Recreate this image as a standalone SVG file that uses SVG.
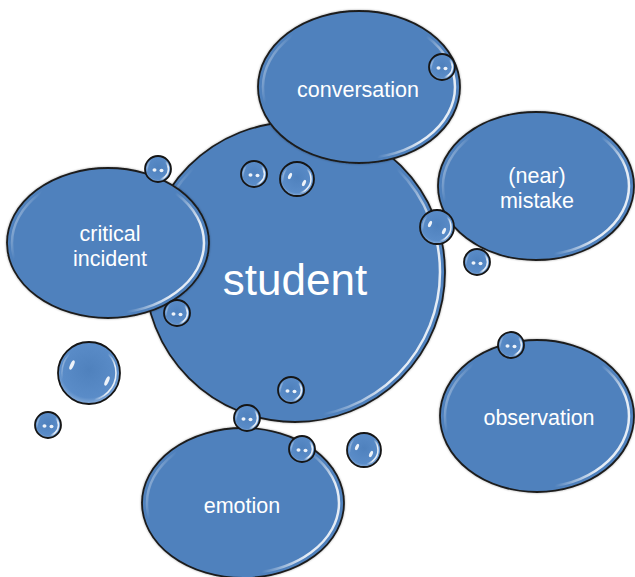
<svg xmlns="http://www.w3.org/2000/svg" xmlns:xlink="http://www.w3.org/1999/xlink" width="635" height="577" viewBox="0 0 635 577">
  <defs>
    <style>
      .blob { fill: #4f81bd; stroke: #1c1c1c; stroke-width: 1.8; filter: url(#soft); }
      .rim { fill: none; stroke: url(#rimGrad); stroke-width: 2.5; }
      .label { fill: #ffffff; font-family: "Liberation Sans", Arial, sans-serif; font-size: 21.5px; text-anchor: middle; }
      .big { font-size: 44px; }
      .bub { fill: url(#bubGrad); stroke: #151515; stroke-width: 1.8; }
      .brim { fill: none; stroke: url(#rimGrad); stroke-width: 1.6; }
      .dot { fill: #ffffff; opacity: 0.9; }
    </style>
    <!-- light rim along the left and right inner edges -->
    <linearGradient id="rimGrad" x1="0" y1="0" x2="1" y2="0.3">
      <stop offset="0" stop-color="#ffffff" stop-opacity="0.85"/>
      <stop offset="0.18" stop-color="#ffffff" stop-opacity="0"/>
      <stop offset="0.82" stop-color="#ffffff" stop-opacity="0"/>
      <stop offset="1" stop-color="#ffffff" stop-opacity="0.85"/>
    </linearGradient>
    <radialGradient id="bubGrad" cx="0.5" cy="0.45" r="0.6">
      <stop offset="0" stop-color="#4f81bd"/>
      <stop offset="0.75" stop-color="#5a8cc8"/>
      <stop offset="1" stop-color="#9dbde3"/>
    </radialGradient>
    <filter id="soft" x="-10%" y="-10%" width="120%" height="120%">
      <feDropShadow dx="0" dy="0" stdDeviation="1.2" flood-color="#000" flood-opacity="0.35"/>
    </filter>

    <!-- small droplet, r 13 -->
    <g id="dropS">
      <circle class="bub" r="13"/>
      <circle class="brim" r="10.5"/>
      <ellipse class="dot" cx="-3.5" cy="1" rx="2" ry="1.8"/>
      <ellipse class="dot" cx="3.5" cy="1.5" rx="2" ry="1.8"/>
    </g>
    <!-- medium droplet, r 17 -->
    <g id="dropM">
      <circle class="bub" r="17"/>
      <circle class="brim" r="14"/>
      <ellipse class="dot" cx="-7" cy="-3" rx="1.6" ry="3.4" transform="rotate(25 -7 -3)"/>
      <ellipse class="dot" cx="7" cy="4" rx="1.6" ry="3.4" transform="rotate(25 7 4)"/>
    </g>
  </defs>

  <rect width="635" height="577" fill="#ffffff"/>

  <g id="student">
    <circle class="blob" cx="295" cy="272" r="150"/>
    <circle class="rim" cx="295" cy="272" r="145"/>
    <text class="label big" x="295" y="295">student</text>
  </g>

  <g id="conversation">
    <ellipse class="blob" cx="359" cy="87" rx="101" ry="76"/>
    <ellipse class="rim" cx="359" cy="87" rx="96" ry="71"/>
    <text class="label" x="358" y="97">conversation</text>
  </g>

  <g id="critical-incident">
    <ellipse class="blob" cx="108" cy="243" rx="101" ry="75"/>
    <ellipse class="rim" cx="108" cy="243" rx="96" ry="70"/>
    <text class="label" x="110" y="241">critical</text>
    <text class="label" x="110" y="266">incident</text>
  </g>

  <g id="near-mistake">
    <ellipse class="blob" cx="536" cy="186" rx="98" ry="74"/>
    <ellipse class="rim" cx="536" cy="186" rx="93" ry="69"/>
    <text class="label" x="537" y="183">(near)</text>
    <text class="label" x="537" y="208">mistake</text>
  </g>

  <g id="observation">
    <ellipse class="blob" cx="537" cy="416" rx="97" ry="76"/>
    <ellipse class="rim" cx="537" cy="416" rx="92" ry="71"/>
    <text class="label" x="539" y="425">observation</text>
  </g>

  <g id="emotion">
    <ellipse class="blob" cx="243" cy="503" rx="101" ry="75"/>
    <ellipse class="rim" cx="243" cy="503" rx="96" ry="70"/>
    <text class="label" x="242" y="513">emotion</text>
  </g>

  <!-- decorative droplets -->
  <g id="droplets">
    <use xlink:href="#dropS" x="158" y="169"/>
    <use xlink:href="#dropS" x="254" y="174"/>
    <use xlink:href="#dropM" x="297" y="179"/>
    <use xlink:href="#dropS" x="442" y="67"/>
    <use xlink:href="#dropM" x="437" y="227"/>
    <use xlink:href="#dropS" x="477" y="262"/>
    <use xlink:href="#dropS" x="177" y="313"/>
    <use xlink:href="#dropS" x="291" y="390"/>
    <use xlink:href="#dropS" x="247" y="418"/>
    <use xlink:href="#dropS" x="302" y="449"/>
    <use xlink:href="#dropM" x="364" y="450"/>
    <use xlink:href="#dropS" x="511" y="345"/>
    <use xlink:href="#dropS" x="48" y="425"/>
    <g id="dropL" transform="translate(89 373)">
      <circle class="bub" r="31"/>
      <circle class="brim" r="27"/>
      <ellipse class="dot" cx="-17" cy="-8" rx="1.8" ry="5" transform="rotate(25 -17 -8)" opacity="0.75"/>
      <ellipse class="dot" cx="18" cy="8" rx="1.8" ry="5" transform="rotate(25 18 8)" opacity="0.75"/>
    </g>
  </g>
</svg>
